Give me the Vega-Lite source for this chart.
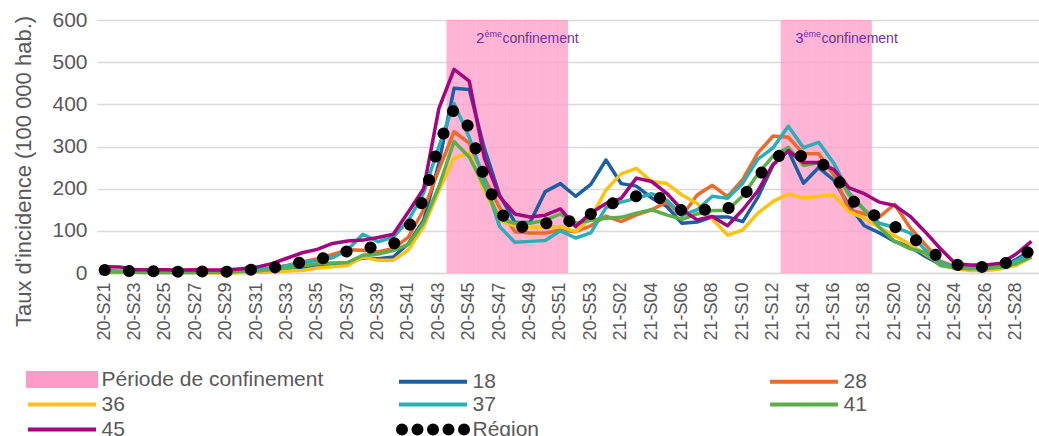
{
  "$schema": "https://vega.github.io/schema/vega-lite/v6.json",
  "width": 942,
  "height": 253,
  "autosize": {"type": "none"},
  "padding": {"left": 97, "top": 20, "right": 0, "bottom": 163},
  "config": {
    "font": "Liberation Sans",
    "view": {"stroke": null},
    "axisX": {"labelAngle": 270, "labelFontSize": 18, "labelColor": "#595959", "ticks": false, "domainColor": "#D9D9D9", "domainWidth": 1.5, "grid": false, "labelPadding": 9},
    "axisY": {"labelFontSize": 21, "labelColor": "#595959", "ticks": false, "domain": false, "grid": true, "gridColor": "#D9D9D9", "gridWidth": 1.5, "labelPadding": 10, "titleFontSize": 22, "titleColor": "#595959", "titleFontWeight": "normal", "titlePadding": 16}
  },
  "datasets": {
    "conf": [
      {"week": "20-S44", "conf": 600}, {"week": "20-S45", "conf": 600}, {"week": "20-S46", "conf": 600}, {"week": "20-S47", "conf": 600},
      {"week": "20-S48", "conf": 600}, {"week": "20-S49", "conf": 600}, {"week": "20-S50", "conf": 600}, {"week": "20-S51", "conf": 600},
      {"week": "21-S13", "conf": 600}, {"week": "21-S14", "conf": 600}, {"week": "21-S15", "conf": 600}, {"week": "21-S16", "conf": 600},
      {"week": "21-S17", "conf": 600}, {"week": "21-S18", "conf": 600}
    ],
    "annot": [
      {"week": "20-S46", "y": 545, "num": "2"},
      {"week": "21-S14", "y": 545, "num": "3"}
    ],
    "taux": [
      {"week": "20-S21", "18": 3, "28": 6, "36": 1, "37": 4, "41": 3, "45": 15, "Région": 7},
      {"week": "20-S22", "18": 2, "28": 5, "36": 1, "37": 3, "41": 3, "45": 14, "Région": 6},
      {"week": "20-S23", "18": 2, "28": 4, "36": 1, "37": 3, "41": 2, "45": 8, "Région": 4},
      {"week": "20-S24", "18": 1, "28": 4, "36": 1, "37": 3, "41": 2, "45": 8, "Région": 4},
      {"week": "20-S25", "18": 1, "28": 4, "36": 1, "37": 2, "41": 2, "45": 8, "Région": 4},
      {"week": "20-S26", "18": 1, "28": 5, "36": 1, "37": 3, "41": 2, "45": 7, "Région": 3},
      {"week": "20-S27", "18": 1, "28": 6, "36": 1, "37": 3, "41": 2, "45": 8, "Région": 4},
      {"week": "20-S28", "18": 1, "28": 5, "36": 0, "37": 3, "41": 2, "45": 7, "Région": 3},
      {"week": "20-S29", "18": 1, "28": 4, "36": 0, "37": 4, "41": 2, "45": 7, "Région": 3},
      {"week": "20-S30", "18": 2, "28": 6, "36": 1, "37": 6, "41": 4, "45": 10, "Région": 6},
      {"week": "20-S31", "18": 2, "28": 8, "36": 2, "37": 7, "41": 5, "45": 14, "Région": 9},
      {"week": "20-S32", "18": 4, "28": 12, "36": 3, "37": 10, "41": 8, "45": 22, "Région": 12},
      {"week": "20-S33", "18": 6, "28": 18, "36": 5, "37": 17, "41": 12, "45": 35, "Région": 18},
      {"week": "20-S34", "18": 9, "28": 26, "36": 6, "37": 24, "41": 17, "45": 48, "Région": 26},
      {"week": "20-S35", "18": 15, "28": 34, "36": 12, "37": 30, "41": 22, "45": 56, "Région": 32},
      {"week": "20-S36", "18": 20, "28": 44, "36": 15, "37": 36, "41": 24, "45": 70, "Région": 40},
      {"week": "20-S37", "18": 24, "28": 55, "36": 18, "37": 55, "41": 25, "45": 76, "Région": 52},
      {"week": "20-S38", "18": 36, "28": 54, "36": 38, "37": 92, "41": 42, "45": 78, "Région": 58},
      {"week": "20-S39", "18": 34, "28": 50, "36": 30, "37": 74, "41": 45, "45": 84, "Région": 63},
      {"week": "20-S40", "18": 38, "28": 58, "36": 30, "37": 85, "41": 53, "45": 92, "Région": 68},
      {"week": "20-S41", "18": 70, "28": 85, "36": 55, "37": 125, "41": 68, "45": 145, "Région": 108},
      {"week": "20-S42", "18": 125, "28": 150, "36": 110, "37": 190, "41": 120, "45": 200, "Région": 175},
      {"week": "20-S43", "18": 260, "28": 245, "36": 195, "37": 300, "41": 205, "45": 390, "Région": 305},
      {"week": "20-S44", "18": 438, "28": 335, "36": 272, "37": 402, "41": 312, "45": 483, "Région": 390},
      {"week": "20-S45", "18": 435, "28": 308, "36": 285, "37": 322, "41": 275, "45": 455, "Région": 345},
      {"week": "20-S46", "18": 295, "28": 225, "36": 195, "37": 220, "41": 205, "45": 272, "Région": 225},
      {"week": "20-S47", "18": 185, "28": 155, "36": 125, "37": 110, "41": 128, "45": 181, "Région": 145},
      {"week": "20-S48", "18": 120, "28": 98, "36": 112, "37": 73, "41": 118, "45": 140, "Région": 107},
      {"week": "20-S49", "18": 120, "28": 95, "36": 108, "37": 75, "41": 118, "45": 133, "Région": 112},
      {"week": "20-S50", "18": 193, "28": 95, "36": 108, "37": 77, "41": 125, "45": 137, "Région": 117},
      {"week": "20-S51", "18": 212, "28": 102, "36": 110, "37": 100, "41": 140, "45": 152, "Région": 130},
      {"week": "20-S52", "18": 182, "28": 98, "36": 98, "37": 83, "41": 118, "45": 110, "Région": 118},
      {"week": "20-S53", "18": 210, "28": 112, "36": 130, "37": 95, "41": 125, "45": 142, "Région": 140},
      {"week": "21-S01", "18": 268, "28": 135, "36": 197, "37": 155, "41": 130, "45": 165, "Région": 160},
      {"week": "21-S02", "18": 212, "28": 122, "36": 235, "37": 168, "41": 132, "45": 177, "Région": 172},
      {"week": "21-S03", "18": 206, "28": 138, "36": 248, "37": 177, "41": 142, "45": 225, "Région": 182},
      {"week": "21-S04", "18": 178, "28": 150, "36": 217, "37": 188, "41": 150, "45": 217, "Région": 185},
      {"week": "21-S05", "18": 158, "28": 168, "36": 212, "37": 173, "41": 138, "45": 189, "Région": 172},
      {"week": "21-S06", "18": 118, "28": 135, "36": 185, "37": 137, "41": 127, "45": 150, "Région": 148},
      {"week": "21-S07", "18": 121, "28": 185, "36": 165, "37": 150, "41": 140, "45": 126, "Région": 145},
      {"week": "21-S08", "18": 133, "28": 208, "36": 128, "37": 182, "41": 148, "45": 134, "Région": 155},
      {"week": "21-S09", "18": 133, "28": 181, "36": 90, "37": 177, "41": 148, "45": 112, "Région": 152},
      {"week": "21-S10", "18": 122, "28": 222, "36": 102, "37": 213, "41": 183, "45": 150, "Région": 180},
      {"week": "21-S11", "18": 180, "28": 285, "36": 142, "37": 270, "41": 235, "45": 195, "Région": 228},
      {"week": "21-S12", "18": 256, "28": 325, "36": 170, "37": 297, "41": 278, "45": 258, "Région": 270},
      {"week": "21-S13", "18": 290, "28": 322, "36": 187, "37": 348, "41": 298, "45": 290, "Région": 290},
      {"week": "21-S14", "18": 213, "28": 283, "36": 178, "37": 297, "41": 255, "45": 262, "Région": 275},
      {"week": "21-S15", "18": 250, "28": 283, "36": 182, "37": 310, "41": 262, "45": 262, "Région": 265},
      {"week": "21-S16", "18": 220, "28": 232, "36": 185, "37": 260, "41": 245, "45": 245, "Région": 238},
      {"week": "21-S17", "18": 160, "28": 150, "36": 145, "37": 190, "41": 185, "45": 202, "Région": 178},
      {"week": "21-S18", "18": 112, "28": 140, "36": 130, "37": 150, "41": 150, "45": 188, "Région": 150},
      {"week": "21-S19", "18": 95, "28": 133, "36": 108, "37": 118, "41": 108, "45": 168, "Région": 130},
      {"week": "21-S20", "18": 75, "28": 163, "36": 88, "37": 108, "41": 75, "45": 160, "Région": 110},
      {"week": "21-S21", "18": 62, "28": 108, "36": 68, "37": 95, "41": 58, "45": 135, "Région": 88},
      {"week": "21-S22", "18": 40, "28": 68, "36": 45, "37": 55, "41": 48, "45": 98, "Région": 62},
      {"week": "21-S23", "18": 20, "28": 28, "36": 22, "37": 25, "41": 18, "45": 58, "Région": 35},
      {"week": "21-S24", "18": 12, "28": 15, "36": 10, "37": 12, "41": 12, "45": 22, "Région": 20},
      {"week": "21-S25", "18": 8, "28": 12, "36": 6, "37": 10, "41": 12, "45": 19, "Région": 15},
      {"week": "21-S26", "18": 8, "28": 12, "36": 6, "37": 10, "41": 12, "45": 19, "Région": 14},
      {"week": "21-S27", "18": 15, "28": 12, "36": 10, "37": 15, "41": 14, "45": 23, "Région": 20},
      {"week": "21-S28", "18": 32, "28": 25, "36": 18, "37": 28, "41": 22, "45": 45, "Région": 32},
      {"week": "21-S29", "18": 55, "28": 45, "36": 38, "37": 50, "41": 38, "45": 75, "Région": 55}
    ]
  },
  "encoding": {
    "x": {
      "field": "week",
      "type": "ordinal",
      "title": null,
      "scale": {
        "paddingInner": 0,
        "paddingOuter": 0,
        "domain": ["20-S21","20-S22","20-S23","20-S24","20-S25","20-S26","20-S27","20-S28","20-S29","20-S30","20-S31","20-S32","20-S33","20-S34","20-S35","20-S36","20-S37","20-S38","20-S39","20-S40","20-S41","20-S42","20-S43","20-S44","20-S45","20-S46","20-S47","20-S48","20-S49","20-S50","20-S51","20-S52","20-S53","21-S01","21-S02","21-S03","21-S04","21-S05","21-S06","21-S07","21-S08","21-S09","21-S10","21-S11","21-S12","21-S13","21-S14","21-S15","21-S16","21-S17","21-S18","21-S19","21-S20","21-S21","21-S22","21-S23","21-S24","21-S25","21-S26","21-S27","21-S28","21-S29"]
      },
      "axis": {
        "values": ["20-S21","20-S23","20-S25","20-S27","20-S29","20-S31","20-S33","20-S35","20-S37","20-S39","20-S41","20-S43","20-S45","20-S47","20-S49","20-S51","20-S53","21-S02","21-S04","21-S06","21-S08","21-S10","21-S12","21-S14","21-S16","21-S18","21-S20","21-S22","21-S24","21-S26","21-S28"]
      }
    }
  },
  "layer": [
    {
      "data": {"name": "conf"},
      "mark": {"type": "bar", "opacity": 0.75},
      "encoding": {
        "y": {"field": "conf", "type": "quantitative", "title": "Taux d'incidence (100 000 hab.)", "scale": {"domain": [0, 600], "nice": false}, "axis": {"values": [0, 100, 200, 300, 400, 500, 600], "titleY": 151}},
        "color": {"datum": "Période de confinement"}
      }
    },
    {
      "data": {"name": "taux"},
      "transform": [{"fold": ["18", "28", "36", "37", "41", "45"], "as": ["serie", "value"]}],
      "mark": {"type": "line", "strokeWidth": 3.5, "strokeJoin": "round"},
      "encoding": {
        "y": {"field": "value", "type": "quantitative", "title": "Taux d'incidence (100 000 hab.)"},
        "color": {
          "field": "serie",
          "type": "nominal",
          "scale": {
            "domain": ["Période de confinement", "18", "28", "36", "37", "41", "45", "Région"],
            "range": ["#FF9BC8", "#1A5EA6", "#EC6A2C", "#FFC20E", "#2AAFB8", "#5BAE4A", "#A3057F", "#000000"]
          },
          "legend": {
            "title": null,
            "orient": "none",
            "legendX": -69,
            "legendY": 349,
            "columns": 3,
            "direction": "horizontal",
            "gridAlign": "all",
            "columnPadding": 65,
            "rowPadding": -2,
            "padding": 0,
            "labelFontSize": 21,
            "labelColor": "#595959",
            "labelLimit": 400,
            "labelOffset": 29,
            "symbolOffset": 23.5,
            "symbolSize": 289,
            "symbolStrokeWidth": 4,
            "symbolOpacity": 1,
            "encode": {
              "symbols": {
                "update": {
                  "shape": {"signal": "datum.value === 'Période de confinement' ? 'M-4,-0.76H4V0.76H-4Z' : (datum.value === 'Région' ? 'M-4.12,0a0.47,0.47 0 1,0 0.94,0a0.47,0.47 0 1,0 -0.94,0M-2.295,0a0.47,0.47 0 1,0 0.94,0a0.47,0.47 0 1,0 -0.94,0M-0.47,0a0.47,0.47 0 1,0 0.94,0a0.47,0.47 0 1,0 -0.94,0M1.355,0a0.47,0.47 0 1,0 0.94,0a0.47,0.47 0 1,0 -0.94,0M3.18,0a0.47,0.47 0 1,0 0.94,0a0.47,0.47 0 1,0 -0.94,0' : 'M-4,0H4')"},
                  "fill": {"signal": "datum.value === 'Période de confinement' ? '#FFB7D5' : (datum.value === 'Région' ? '#000000' : 'transparent')"},
                  "stroke": {"signal": "(datum.value === 'Période de confinement' || datum.value === 'Région') ? 'transparent' : scale('color', datum.value)"},
                  "fillOpacity": {"value": 1}
                }
              }
            }
          }
        }
      }
    },
    {
      "data": {"name": "taux"},
      "mark": {"type": "line", "strokeWidth": 12, "strokeCap": "round", "strokeDash": [0.1, 24.3]},
      "encoding": {
        "y": {"field": "Région", "type": "quantitative", "title": "Taux d'incidence (100 000 hab.)"},
        "color": {"datum": "Région"}
      }
    },
    {
      "data": {"name": "annot"},
      "mark": {"type": "text", "align": "right", "baseline": "alphabetic", "fontSize": 15, "color": "#7030A0"},
      "encoding": {
        "y": {"field": "y", "type": "quantitative", "title": "Taux d'incidence (100 000 hab.)"},
        "text": {"field": "num"}
      }
    },
    {
      "data": {"name": "annot"},
      "mark": {"type": "text", "align": "left", "baseline": "alphabetic", "fontSize": 9, "dx": 0, "dy": -6, "color": "#7030A0"},
      "encoding": {
        "y": {"field": "y", "type": "quantitative", "title": "Taux d'incidence (100 000 hab.)"},
        "text": {"value": "ème"}
      }
    },
    {
      "data": {"name": "annot"},
      "mark": {"type": "text", "align": "left", "baseline": "alphabetic", "fontSize": 14, "dx": 18, "color": "#7030A0"},
      "encoding": {
        "y": {"field": "y", "type": "quantitative", "title": "Taux d'incidence (100 000 hab.)"},
        "text": {"value": "confinement"}
      }
    }
  ]
}
